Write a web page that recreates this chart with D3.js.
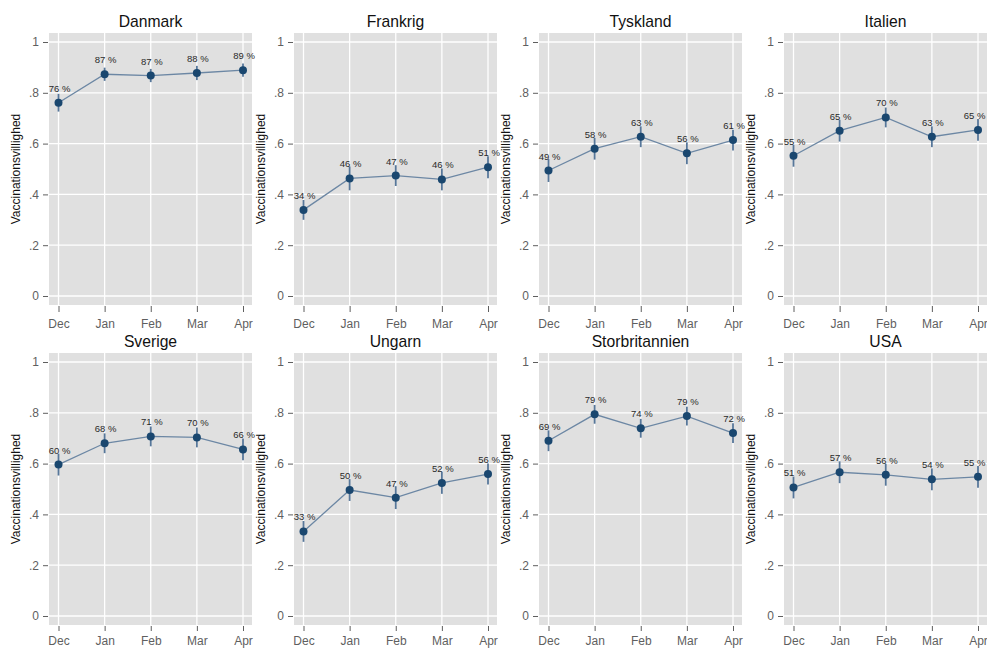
<!DOCTYPE html>
<html>
<head>
<meta charset="utf-8">
<script src="https://cdn.jsdelivr.net/npm/d3@7"></script>
<style>
  html, body { margin: 0; padding: 0; background: #ffffff; }
  svg { display: block; font-family: "Liberation Sans", Arial, sans-serif; }
</style>
</head>
<body>
<svg id="chart" width="987" height="648"></svg>
<script>
// ---- data ----
const months = ["Dec", "Jan", "Feb", "Mar", "Apr"];
const countries = ["Danmark", "Frankrig", "Tyskland", "Italien", "Sverige", "Ungarn", "Storbritannien", "USA"];
const yTicks = [0, 0.2, 0.4, 0.6, 0.8, 1];
const yTickLabels = ["0", ".2", ".4", ".6", ".8", "1"];
const yTitle = "Vaccinationsvillighed";

const danmark        = [0.761, 0.873, 0.868, 0.878, 0.889];
const frankrig       = [0.339, 0.463, 0.474, 0.459, 0.507];
const tyskland       = [0.494, 0.580, 0.627, 0.562, 0.614];
const italien        = [0.552, 0.651, 0.703, 0.627, 0.654];
const sverige        = [0.596, 0.680, 0.707, 0.703, 0.656];
const ungarn         = [0.333, 0.496, 0.466, 0.524, 0.559];
const storbritannien = [0.690, 0.794, 0.739, 0.787, 0.720];
const usa            = [0.506, 0.566, 0.556, 0.538, 0.548];

// half-width of confidence interval
const ciDanmark        = [0.035, 0.026, 0.026, 0.028, 0.026];
const ciFrankrig       = [0.039, 0.047, 0.041, 0.043, 0.043];
const ciTyskland       = [0.045, 0.043, 0.041, 0.043, 0.041];
const ciItalien        = [0.043, 0.043, 0.039, 0.041, 0.043];
const ciSverige        = [0.043, 0.039, 0.039, 0.039, 0.043];
const ciUngarn         = [0.041, 0.043, 0.045, 0.043, 0.041];
const ciStorbritannien = [0.041, 0.037, 0.037, 0.037, 0.039];
const ciUsa            = [0.043, 0.043, 0.043, 0.043, 0.043];

const seriesValues = [danmark, frankrig, tyskland, italien, sverige, ungarn, storbritannien, usa];
const seriesCI = [ciDanmark, ciFrankrig, ciTyskland, ciItalien, ciSverige, ciUngarn, ciStorbritannien, ciUsa];

// ---- layout ----
const W = 987;
const svg = d3.select("#chart");
const panelW = 203, panelH = 272;
const colLeft = [49, 294, 539, 784];
const rowTop = [33, 353];

const x = d3.scalePoint().domain(months).range([9.5, 194]);
const y = d3.scaleLinear().domain([0, 1]).range([263, 9]);

const bgCol = "#e0e0e0";
const markerCol = "#1a476f";
const lineCol = "#6c87a4";
const ciCol = "#57779a";
const tickCol = "#5f5f5f";

countries.forEach((name, i) => {
  const col = i % 4, row = Math.floor(i / 4);
  const g = svg.append("g").attr("transform", `translate(${colLeft[col]},${rowTop[row]})`);
  const vals = seriesValues[i], ci = seriesCI[i];
  const data = months.map((m, k) => ({ m, v: vals[k], lo: vals[k] - ci[k], hi: vals[k] + ci[k] }));

  g.append("rect").attr("x", 0).attr("y", 0).attr("width", panelW).attr("height", panelH).attr("fill", bgCol);

  // grid
  g.selectAll("line.hg").data(yTicks).join("line")
    .attr("x1", 0).attr("x2", panelW)
    .attr("y1", d => y(d)).attr("y2", d => y(d))
    .attr("stroke", "#ffffff").attr("stroke-width", 1.3);
  g.selectAll("line.vg").data(months).join("line")
    .attr("y1", 0).attr("y2", panelH)
    .attr("x1", d => x(d)).attr("x2", d => x(d))
    .attr("stroke", "#ffffff").attr("stroke-width", 1.3);

  // axes
  const yAxis = g.append("g").attr("transform", "translate(-1,0)")
    .call(d3.axisLeft(y).tickValues(yTicks).tickFormat((d, k) => yTickLabels[k]).tickSize(5).tickPadding(4));
  const xAxis = g.append("g").attr("transform", `translate(0,${panelH + 1})`)
    .call(d3.axisBottom(x).tickSize(row === 0 ? 6 : 5).tickPadding(row === 0 ? 7 : 5));
  [yAxis, xAxis].forEach(a => {
    a.select(".domain").remove();
    a.selectAll(".tick line").attr("stroke", tickCol).attr("stroke-width", 1);
    a.selectAll(".tick text").attr("fill", tickCol).attr("font-size", 12)
      .attr("font-family", "'Liberation Sans', Arial, sans-serif");
  });

  // title
  g.append("text").attr("x", panelW / 2).attr("y", -6).attr("text-anchor", "middle")
    .attr("font-size", 15.7).attr("fill", "#111").text(name);

  // y axis title
  g.append("text").attr("transform", `translate(-29,${panelH / 2}) rotate(-90)`)
    .attr("text-anchor", "middle").attr("font-size", 12).attr("fill", "#111").text(yTitle);

  // CI bars
  g.selectAll("line.ci").data(data).join("line")
    .attr("x1", d => x(d.m)).attr("x2", d => x(d.m))
    .attr("y1", d => y(d.lo)).attr("y2", d => y(d.hi))
    .attr("stroke", ciCol).attr("stroke-width", 1.8);

  // line
  g.append("path").datum(data)
    .attr("d", d3.line().x(d => x(d.m)).y(d => y(d.v)))
    .attr("fill", "none").attr("stroke", lineCol).attr("stroke-width", 1.3);

  // markers
  g.selectAll("circle.pt").data(data).join("circle")
    .attr("cx", d => x(d.m)).attr("cy", d => y(d.v)).attr("r", 4)
    .attr("fill", markerCol);

  // labels (kept inside the page at the right edge)
  const lbl = g.selectAll("text.lbl").data(data).join("text")
    .attr("x", d => x(d.m) + 1).attr("y", d => y(d.v) - 11)
    .attr("text-anchor", "middle").attr("font-size", 9.5).attr("fill", "#2a2a2a")
    .text(d => Math.round(d.v * 100) + " %");
  lbl.each(function(d) {
    const bb = this.getBBox();
    const over = colLeft[col] + bb.x + bb.width - (W - 1);
    if (over > 0) d3.select(this).attr("x", x(d.m) + 1 - over);
  });
});
</script>
</body>
</html>
